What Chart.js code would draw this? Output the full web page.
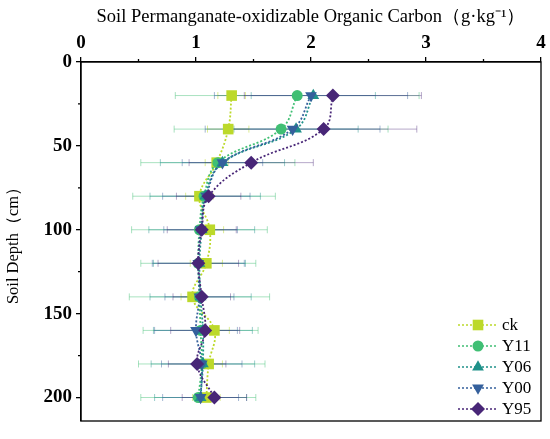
<!DOCTYPE html>
<html><head><meta charset="utf-8">
<script src="https://cdn.jsdelivr.net/npm/chart.js@4.4.0/dist/chart.umd.min.js"></script>
<style>html,body{margin:0;padding:0;background:#fff;} #wrap{width:550px;height:439px;position:relative;}</style>
</head><body><div id="wrap"><canvas id="c"></canvas></div>
<script>
const seriesNames = ['ck', 'Y11', 'Y06', 'Y00', 'Y95'];
const depths = [20, 40, 60, 80, 100, 120, 140, 160, 180, 200];
const ckValues  = [1.31, 1.28, 1.18, 1.03, 1.12, 1.09, 0.97, 1.16, 1.11, 1.09];
const y11Values = [1.88, 1.74, 1.19, 1.07, 1.03, 1.02, 1.03, 1.04, 1.05, 1.02];
const y06Values = [2.02, 1.87, 1.23, 1.08, 1.05, 1.03, 1.04, 1.06, 1.06, 1.04];
const y00Values = [2.00, 1.84, 1.23, 1.09, 1.04, 1.02, 1.03, 1.00, 1.05, 1.04];
const y95Values = [2.19, 2.11, 1.48, 1.11, 1.05, 1.02, 1.05, 1.08, 1.01, 1.16];
const ckErr  = [0.12, 0.18, 0.10, 0.12, 0.12, 0.14, 0.10, 0.13, 0.12, 0.12];
const y11Err = [1.06, 0.93, 0.67, 0.62, 0.59, 0.50, 0.61, 0.50, 0.55, 0.50];
const y06Err = [0.54, 0.54, 0.54, 0.48, 0.46, 0.40, 0.44, 0.43, 0.45, 0.40];
const y00Err = [0.84, 0.76, 0.35, 0.38, 0.32, 0.40, 0.30, 0.36, 0.35, 0.33];
const y95Err = [0.77, 0.81, 0.54, 0.28, 0.30, 0.35, 0.25, 0.30, 0.25, 0.28];
const xTickValues = [0, 1, 2, 3, 4];
const yTickValues = [0, 50, 100, 150, 200];
const xTitle = 'Soil Permanganate-oxidizable Organic Carbon（g·kg⁻¹）';
const yTitle = 'Soil Depth（cm）';

const allValues = [ckValues, y11Values, y06Values, y00Values, y95Values];
const allErr = [ckErr, y11Err, y06Err, y00Err, y95Err];
const colors = ['#bcd92a', '#40bf74', '#1f9189', '#35609c', '#482677'];
const errColors = ['rgba(188,217,42,0.5)', 'rgba(64,191,116,0.45)', 'rgba(31,145,137,0.45)', 'rgba(53,96,156,0.45)', 'rgba(72,38,119,0.4)'];
const styles = [
  {pointStyle: 'rect', radius: 7.5, rotation: 0},
  {pointStyle: 'circle', radius: 5.5, rotation: 0},
  {pointStyle: 'triangle', radius: 6.8, rotation: 0},
  {pointStyle: 'triangle', radius: 6.8, rotation: 180},
  {pointStyle: 'rectRot', radius: 7, rotation: 0}
];

const datasets = seriesNames.map((name, i) => ({
  label: name,
  data: depths.map((d, j) => ({x: allValues[i][j], y: d})),
  borderColor: colors[i],
  backgroundColor: colors[i],
  borderWidth: 1.8,
  borderDash: [2, 2],
  tension: 0.4,
  pointStyle: styles[i].pointStyle,
  pointRadius: styles[i].radius,
  pointRotation: styles[i].rotation,
  pointBorderWidth: 0,
  pointBackgroundColor: colors[i],
  order: seriesNames.length - 1 - i,
  clip: false
}));

const decor = {
  id: 'decor',
  beforeDatasetsDraw(chart) {
    const ctx = chart.ctx, xs = chart.scales.x, ys = chart.scales.y;
    ctx.save();
    ctx.lineWidth = 1;
    allValues.forEach((vals, i) => {
      ctx.strokeStyle = errColors[i];
      vals.forEach((v, j) => {
        const e = allErr[i][j];
        const py = ys.getPixelForValue(depths[j]);
        const x1 = xs.getPixelForValue(v - e), x2 = xs.getPixelForValue(v + e);
        ctx.beginPath();
        ctx.moveTo(x1, py); ctx.lineTo(x2, py);
        ctx.moveTo(x1, py - 3.5); ctx.lineTo(x1, py + 3.5);
        ctx.moveTo(x2, py - 3.5); ctx.lineTo(x2, py + 3.5);
        ctx.stroke();
      });
    });
    ctx.restore();
  },
  afterDraw(chart) {
    const ctx = chart.ctx, a = chart.chartArea, xs = chart.scales.x, ys = chart.scales.y;
    ctx.save();
    ctx.strokeStyle = '#000';
    ctx.lineWidth = 1.3;
    ctx.strokeRect(a.left, a.top, a.right - a.left, a.bottom - a.top);
    ctx.beginPath();
    for (let k = 0; k < xTickValues.length - 1; k++) {
      const px = xs.getPixelForValue((xTickValues[k] + xTickValues[k + 1]) / 2);
      ctx.moveTo(px, a.top); ctx.lineTo(px, a.top - 3);
    }
    for (let k = 0; k < yTickValues.length; k++) {
      const v = yTickValues[k] + 25;
      if (v >= ys.max) continue;
      const py = ys.getPixelForValue(v);
      ctx.moveTo(a.left, py); ctx.lineTo(a.left - 3, py);
    }
    ctx.stroke();
    // legend
    const lx = a.right - 83, ly = a.bottom - 96;
    ctx.font = '17px "Liberation Serif"';
    ctx.textBaseline = 'middle';
    ctx.textAlign = 'left';
    seriesNames.forEach((name, i) => {
      const y = ly + i * 21;
      ctx.strokeStyle = colors[i];
      ctx.fillStyle = colors[i];
      ctx.lineWidth = 1.5;
      ctx.setLineDash([2, 2]);
      ctx.beginPath();
      ctx.moveTo(lx, y); ctx.lineTo(lx + 40, y);
      ctx.stroke();
      ctx.setLineDash([]);
      Chart.helpers.drawPoint(ctx, {pointStyle: styles[i].pointStyle, radius: styles[i].radius, rotation: styles[i].rotation, borderWidth: 0}, lx + 20, y);
      ctx.fillStyle = '#000';
      ctx.fillText(name, lx + 44, y + 1);
    });
    ctx.restore();
  }
};

const tickFont = {family: 'Liberation Serif', size: 19, weight: 'bold'};

new Chart(document.getElementById('c'), {
  type: 'line',
  data: {datasets},
  options: {
    responsive: true,
    maintainAspectRatio: false,
    animation: false,
    layout: {padding: {left: 0, top: 0, right: 9, bottom: 18}},
    plugins: {legend: {display: false}, tooltip: {enabled: false}},
    scales: {
      x: {
        type: 'linear', position: 'top', min: 0, max: 4,
        afterBuildTicks(s) { s.ticks = xTickValues.map(v => ({value: v})); },
        ticks: {font: tickFont, color: '#000', padding: 3, maxRotation: 0},
        grid: {drawOnChartArea: false, tickLength: 5, color: '#000', lineWidth: 1.3},
        border: {color: '#000', width: 1.3},
        title: {display: true, text: xTitle, font: {family: 'Liberation Serif', size: 18.5}, color: '#000', padding: {top: 6, bottom: 0}},
        afterFit(s) { s.height = 62; }
      },
      y: {
        type: 'linear', reverse: true, min: 0, max: 214,
        afterBuildTicks(s) { s.ticks = yTickValues.map(v => ({value: v})); },
        ticks: {font: tickFont, color: '#000', padding: 4},
        grid: {drawOnChartArea: false, tickLength: 5, color: '#000', lineWidth: 1.3},
        border: {color: '#000', width: 1.3},
        title: {display: true, text: yTitle, font: {family: 'Liberation Serif', size: 16.5}, color: '#000', padding: {top: 4, bottom: 0}},
        afterFit(s) { s.width = 81; }
      }
    }
  },
  plugins: [decor]
});
</script></body></html>
